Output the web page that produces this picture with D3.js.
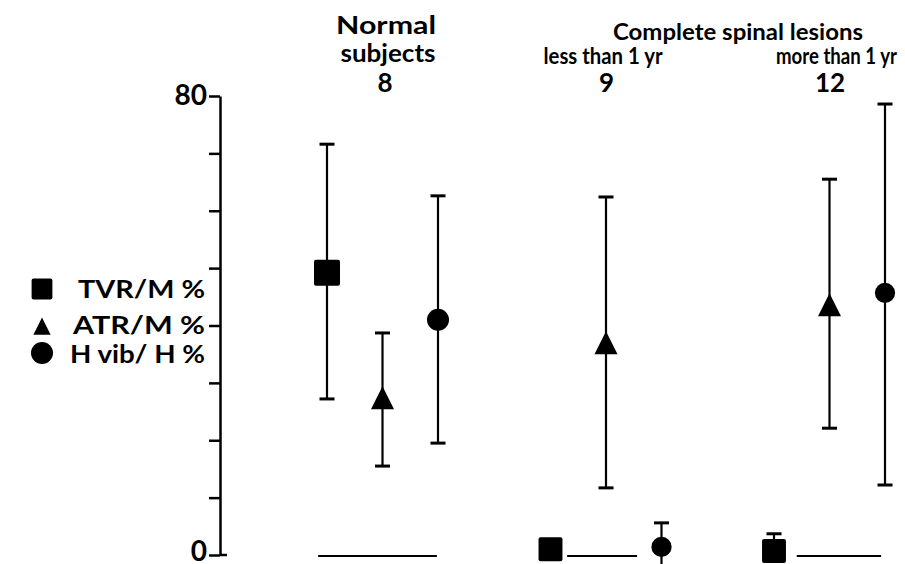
<!DOCTYPE html>
<html><head><meta charset="utf-8">
<script src="https://cdn.jsdelivr.net/npm/d3@7"></script>
<style>
body{margin:0;background:#fff}
text{font-family:Lato,"DejaVu Sans",sans-serif;font-weight:700;fill:#000}
</style>
</head><body>
<svg id="c" width="905" height="564"></svg>
<script>
// ---- data ----
const groups = ["Normal subjects", "Complete spinal lesions < 1 yr", "Complete spinal lesions > 1 yr"];
const groupN = ["8", "9", "12"];
const series = ["TVR/M %", "ATR/M %", "H vib/ H %"];
const symbolsKind = ["square", "triangle", "circle"];
// mean, lower and upper ends of bars (percent)
const means = [[49.2, 27.4, 41.0], [1.0, 37.0, 1.4], [0.7, 43.6, 45.7]];
const lower = [[27.2, 15.5, 19.5], [null, 11.7, -2.0], [0.0, 22.1, 12.2]];
const upper = [[71.6, 38.7, 62.6], [null, 62.4, 5.6], [3.7, 65.5, 78.6]];
// baseline segment extents, in series-slot units
const baseFrom = [-0.16, 0.30, 0.41];
const baseTo = [1.98, 1.56, 1.93];
const yTicks = [0, 10, 20, 30, 40, 50, 60, 70, 80];
const yLabels = [0, 80];

// ---- scales ----
const svg = d3.select("#c");
const y = d3.scaleLinear().domain([0, 80]).range([555, 96]);
const gx = d3.scalePoint().domain(groups).range([383, 830]);
const sx = d3.scaleLinear().domain([0, 2]).range([-56, 55]);
const xPos = (gi, slot) => gx(groups[gi]) + sx(slot);

// ---- axis ----
const ax = svg.append("g").attr("transform", "translate(220,0)")
  .call(d3.axisLeft(y).tickValues(yTicks).tickSize(11).tickSizeOuter(0).tickPadding(2)
    .tickFormat(d => yLabels.includes(d) ? String(d) : ""));
ax.select(".domain").attr("stroke", "#000").attr("stroke-width", 2.5);
ax.selectAll(".tick line").attr("stroke", "#000").attr("stroke-width", 2.5);
ax.selectAll(".tick text").attr("font-size", 28).attr("fill", "#000")
  .style("font-family", "Lato, sans-serif").style("font-weight", 700)
  .attr("dy", d => d === 0 ? "0.2em" : "0.32em");
svg.append("line").attr("x1", 220).attr("x2", 227).attr("y1", y(0)).attr("y2", y(0))
  .attr("stroke", "#000").attr("stroke-width", 2.5);

// ---- baselines ----
groups.forEach((g, gi) => {
  svg.append("line")
    .attr("x1", xPos(gi, baseFrom[gi])).attr("x2", xPos(gi, baseTo[gi]))
    .attr("y1", y(0) + 1).attr("y2", y(0) + 1)
    .attr("stroke", "#000").attr("stroke-width", 2);
});

// ---- marks ----
const tri = "M0,-11.5L11.5,11.5L-11.5,11.5Z";
function drawSymbol(sel, kind, cx, cy, scale) {
  const k = scale || 1;
  if (kind === "square") {
    sel.append("rect").attr("x", cx - 13 * k).attr("y", cy - 13 * k)
      .attr("width", 26 * k).attr("height", 26 * k).attr("rx", 2).attr("fill", "#000");
  } else if (kind === "triangle") {
    sel.append("path").attr("d", tri).attr("transform", `translate(${cx},${cy}) scale(${k})`).attr("fill", "#000");
  } else {
    sel.append("circle").attr("cx", cx).attr("cy", cy).attr("r", 11 * k).attr("fill", "#000");
  }
}

const marks = svg.append("g");
groups.forEach((g, gi) => {
  series.forEach((s, si) => {
    const cx = xPos(gi, si);
    const lo = lower[gi][si], hi = upper[gi][si];
    if (hi !== null) {
      marks.append("line").attr("x1", cx).attr("x2", cx)
        .attr("y1", y(lo)).attr("y2", y(hi)).attr("stroke", "#000").attr("stroke-width", 2.2);
      marks.append("line").attr("x1", cx - 7.5).attr("x2", cx + 7.5)
        .attr("y1", y(hi)).attr("y2", y(hi)).attr("stroke", "#000").attr("stroke-width", 3);
      if (lo > 0) {
        marks.append("line").attr("x1", cx - 7.5).attr("x2", cx + 7.5)
          .attr("y1", y(lo)).attr("y2", y(lo)).attr("stroke", "#000").attr("stroke-width", 3);
      }
    }
    const sc = (gi > 0 && si !== 1) ? 0.92 : 1;
    drawSymbol(marks, symbolsKind[si], cx, y(means[gi][si]), sc);
  });
});

// ---- headers ----
function txt(str, x, yy, size, len, anchor) {
  const t = svg.append("text").attr("x", x).attr("y", yy).attr("text-anchor", anchor || "middle")
    .attr("font-size", size).text(str);
  if (len) t.attr("textLength", len).attr("lengthAdjust", "spacingAndGlyphs");
  return t;
}
txt("Normal", 386, 34, 25, 100);
txt("subjects", 388, 62, 24, 95);
txt("Complete spinal lesions", 738, 40, 23, 250);
txt("less than 1 yr", 603, 64, 22, 119);
txt("more than 1 yr", 897, 64, 22, 121, "end");
groups.forEach((g, gi) => txt(groupN[gi], gx(g) + (gi === 0 ? 2 : 0), 92, 26));

// ---- legend ----
const legY = [289, 326, 353];
const legBase = [298, 334, 363];
const legX = [78, 73, 70];
const legLen = [127, 132, 135];
series.forEach((s, si) => {
  drawSymbol(svg, symbolsKind[si], 42, legY[si], si === 0 ? 0.8 : (si === 1 ? 0.75 : 1));
  svg.append("text").attr("x", legX[si]).attr("y", legBase[si]).attr("font-size", 24)
    .attr("textLength", legLen[si]).attr("lengthAdjust", "spacingAndGlyphs").text(s);
});
</script>
</body></html>
